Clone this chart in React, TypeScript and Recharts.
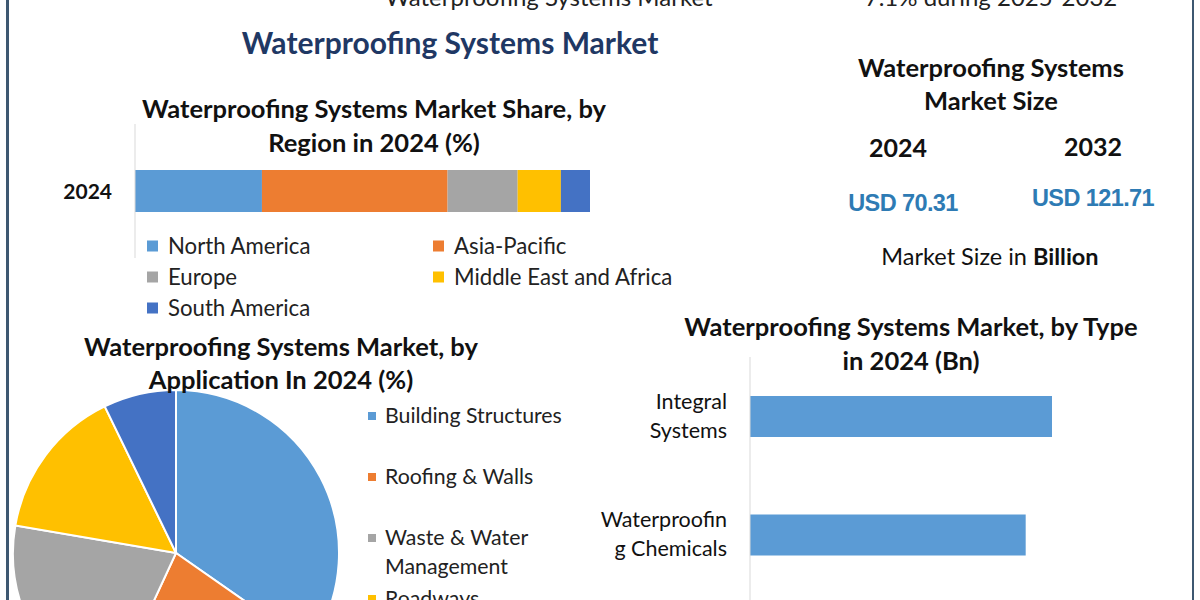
import React from "react";
import { BarChart, Bar, XAxis, YAxis, PieChart, Pie, Cell } from "recharts";

const FONT = "Lato, 'Open Sans', sans-serif";
const NAVY = "#1f3864";
const INK = "#111111";
const AXIS_GRAY = "#d9d9d9";

// Region share (stacked bar)
const regionYears = ["2024"];
const regionNames = ["North America", "Asia-Pacific", "Europe", "Middle East and Africa", "South America"];
const regionShares = [27.9, 40.8, 15.4, 9.5, 6.4];
const regionColors = ["#5b9bd5", "#ed7d31", "#a5a5a5", "#ffc000", "#4472c4"];

// Application share (pie)
const applicationNames = ["Building Structures", "Roofing & Walls", "Waste & Water Management", "Roadways", "Tunnel Liners"];
const applicationLegendLines = [["Building Structures"], ["Roofing & Walls"], ["Waste & Water", "Management"], ["Roadways"], ["Tunnel Liners"]];
const applicationShares = [34.7, 22.2, 20.8, 15.1, 7.2];
const applicationColors = ["#5b9bd5", "#ed7d31", "#a5a5a5", "#ffc000", "#4472c4"];

// Type values (horizontal bars, Bn)
const typeNames = ["Integral Systems", "Waterproofing Chemicals"];
const typeTickLines = [["Integral", "Systems"], ["Waterproofin", "g Chemicals"]];
const typeValues = [24.1, 22.0];

// Market size figures
const sizeYears = ["2024", "2032"];
const sizeValues = ["USD 70.31", "USD 121.71"];

const regionData = regionYears.map((year) => {
  const row: Record<string, string | number> = { year };
  regionNames.forEach((name, i) => {
    row[name] = regionShares[i];
  });
  return row;
});

const applicationData = applicationNames.map((name, i) => ({ name, value: applicationShares[i] }));

const typeData = typeNames.map((name, i) => ({ name, value: typeValues[i] }));

const TypeTick = (props: any) => {
  const { x, y, payload } = props;
  const idx = typeNames.indexOf(payload.value);
  const lines = typeTickLines[idx] || [String(payload.value)];
  return (
    <g>
      {lines.map((line, i) => (
        <text
          key={i}
          x={x}
          y={y + (i - (lines.length - 1) / 2) * 29 + 7}
          textAnchor="end"
          fontFamily={FONT}
          fontSize={21.5}
          fill={INK}
        >
          {line}
        </text>
      ))}
    </g>
  );
};

const YearTick = (props: any) => {
  const { x, y, payload } = props;
  return (
    <text x={x} y={y + 8} textAnchor="end" fontFamily={FONT} fontSize={21} fontWeight={700} fill={INK}>
      {payload.value}
    </text>
  );
};

export default function App() {
  return (
    <div
      style={{
        position: "fixed",
        left: 0,
        top: 0,
        width: 1200,
        height: 600,
        overflow: "hidden",
        background: "#ffffff",
        fontFamily: FONT,
      }}
    >
      {/* frame lines */}
      <div style={{ position: "absolute", left: 6, top: 0, width: 3, height: 600, background: "#3e5871" }} />
      <div style={{ position: "absolute", left: 1192, top: 0, width: 2, height: 600, background: "#3e5871" }} />

      {/* region share stacked bar */}
      <div style={{ position: "absolute", left: 0, top: 110 }}>
        <BarChart
          width={620}
          height={150}
          data={regionData}
          layout="vertical"
          margin={{ top: 14, right: 30, bottom: 2, left: 0 }}
        >
          <XAxis type="number" domain={[0, 100]} hide />
          <YAxis
            type="category"
            dataKey="year"
            width={135}
            axisLine={{ stroke: AXIS_GRAY, strokeWidth: 1 }}
            tickLine={false}
            tickSize={0}
            tickMargin={23}
            tick={<YearTick />}
          />
          {regionNames.map((name, i) => (
            <Bar key={name} dataKey={name} stackId="region" fill={regionColors[i]} barSize={42} isAnimationActive={false} />
          ))}
        </BarChart>
      </div>

      {/* application pie */}
      <div style={{ position: "absolute", left: 0, top: 380 }}>
        <PieChart width={360} height={360} margin={{ top: 0, right: 0, bottom: 0, left: 0 }}>
          <Pie
            data={applicationData}
            dataKey="value"
            nameKey="name"
            cx={176}
            cy={173}
            outerRadius={163}
            startAngle={90}
            endAngle={-270}
            stroke="#ffffff"
            strokeWidth={2}
            isAnimationActive={false}
          >
            {applicationData.map((d, i) => (
              <Cell key={d.name} fill={applicationColors[i]} />
            ))}
          </Pie>
        </PieChart>
      </div>

      {/* type bars */}
      <div style={{ position: "absolute", left: 560, top: 340 }}>
        <BarChart
          width={640}
          height={280}
          data={typeData}
          layout="vertical"
          margin={{ top: 17, right: 49, bottom: 6, left: 0 }}
        >
          <XAxis type="number" domain={[0, 32]} hide />
          <YAxis
            type="category"
            dataKey="name"
            width={190}
            axisLine={{ stroke: AXIS_GRAY, strokeWidth: 1 }}
            tickLine={false}
            tickSize={0}
            tickMargin={23}
            padding={{ top: 0, bottom: 20 }}
            tick={<TypeTick />}
          />
          <Bar dataKey="value" fill="#5b9bd5" barSize={41} isAnimationActive={false} />
        </BarChart>
      </div>

      {/* text layer */}
      <svg width={1200} height={600} style={{ position: "absolute", left: 0, top: 0, pointerEvents: "none" }}>
        <g fontFamily={FONT}>
          <text x={549} y={6} textAnchor="middle" fontSize={24} fill="#222">Waterproofing Systems Market</text>
          <text x={991} y={6} textAnchor="middle" fontSize={24} fill="#222">7.1% during 2025-2032</text>

          <text x={450} y={54} textAnchor="middle" fontSize={30} fontWeight={700} fill={NAVY}>Waterproofing Systems Market</text>

          <text x={374} y={118} textAnchor="middle" fontSize={25.5} fontWeight={700} fill={INK}>Waterproofing Systems Market Share, by</text>
          <text x={374} y={152} textAnchor="middle" fontSize={25.5} fontWeight={700} fill={INK}>Region in 2024 (%)</text>

          {regionNames.map((name, i) => {
            const col = i % 2;
            const row = Math.floor(i / 2);
            const sx = col === 0 ? 147 : 433;
            const cy = 246 + row * 31;
            return (
              <g key={name}>
                <rect x={sx} y={cy - 5.5} width={11} height={11} fill={regionColors[i]} />
                <text x={sx + 21} y={cy + 7.5} fontSize={22.2} fill="#222">{name}</text>
              </g>
            );
          })}

          <text x={281} y={356} textAnchor="middle" fontSize={25.5} fontWeight={700} fill={INK}>Waterproofing Systems Market, by</text>
          <text x={281} y={389} textAnchor="middle" fontSize={25.5} fontWeight={700} fill={INK}>Application In 2024 (%)</text>

          {applicationNames.map((name, i) => {
            const cy = 416 + i * 61;
            return (
              <g key={name}>
                <rect x={368} y={cy - 4} width={8} height={8} fill={applicationColors[i]} />
                {applicationLegendLines[i].map((line, j) => (
                  <text key={j} x={385} y={cy + 7 + j * 29} fontSize={21.3} fill="#222">{line}</text>
                ))}
              </g>
            );
          })}

          <text x={991} y={77} textAnchor="middle" fontSize={25.5} fontWeight={700} fill={INK}>Waterproofing Systems</text>
          <text x={991} y={110} textAnchor="middle" fontSize={25.5} fontWeight={700} fill={INK}>Market Size</text>

          <text x={898} y={157} textAnchor="middle" fontSize={25} fontWeight={700} fill={INK}>{sizeYears[0]}</text>
          <text x={1093} y={156} textAnchor="middle" fontSize={25} fontWeight={700} fill={INK}>{sizeYears[1]}</text>
          <text x={903} y={211} textAnchor="middle" fontSize={23.5} fontWeight={700} fill="#2e7bb4" fontFamily="'Liberation Sans', Arial, sans-serif" letterSpacing={-0.6}>{sizeValues[0]}</text>
          <text x={1093} y={206} textAnchor="middle" fontSize={23.5} fontWeight={700} fill="#2e7bb4" fontFamily="'Liberation Sans', Arial, sans-serif" letterSpacing={-0.6}>{sizeValues[1]}</text>
          <text x={990} y={265} textAnchor="middle" fontSize={23.5} fill={INK}>
            Market Size in <tspan fontWeight={700}>Billion</tspan>
          </text>

          <text x={911} y={336} textAnchor="middle" fontSize={25.5} fontWeight={700} fill={INK}>Waterproofing Systems Market, by Type</text>
          <text x={911} y={370} textAnchor="middle" fontSize={25.5} fontWeight={700} fill={INK}>in 2024 (Bn)</text>
        </g>
      </svg>
    </div>
  );
}
